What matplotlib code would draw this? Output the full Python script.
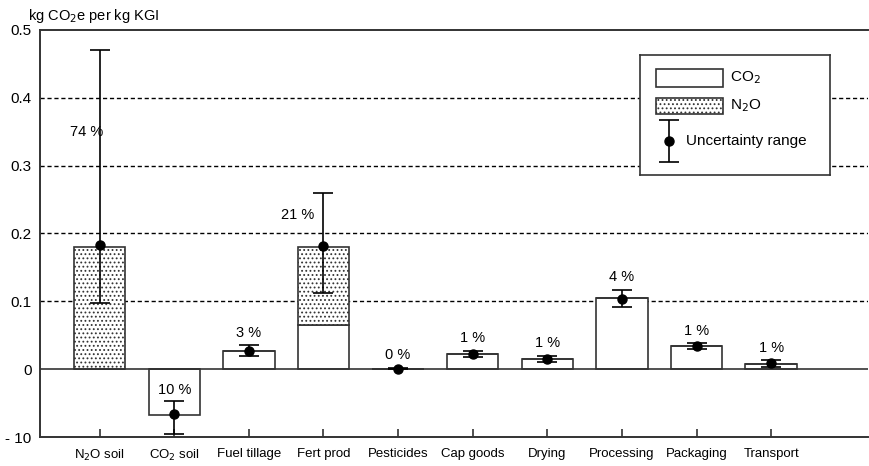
import numpy as np
import matplotlib.pyplot as plt
from matplotlib.patches import Rectangle

plt.rcParams['font.family'] = ['Liberation Sans', 'DejaVu Sans']
plt.rcParams['hatch.linewidth'] = 0.8

# Data (kg CO2e per kg KGI)
categories = ['N$_2$O soil', 'CO$_2$ soil', 'Fuel tillage', 'Fert prod', 'Pesticides',
              'Cap goods', 'Drying', 'Processing', 'Packaging', 'Transport']
co2 = [0.0, -0.068, 0.027, 0.065, 0.001, 0.022, 0.015, 0.105, 0.034, 0.007]
n2o = [0.180, 0.0, 0.0, 0.115, 0.0, 0.0, 0.0, 0.0, 0.0, 0.0]
central = [0.183, -0.066, 0.027, 0.182, 0.001, 0.022, 0.015, 0.104, 0.034, 0.009]
err_low = [0.097, -0.095, 0.020, 0.113, 0.000, 0.018, 0.011, 0.092, 0.030, 0.004]
err_high = [0.470, -0.047, 0.035, 0.260, 0.002, 0.027, 0.019, 0.117, 0.038, 0.013]
shares = ['74 %', '10 %', '3 %', '21 %', '0 %', '1 %', '1 %', '4 %', '1 %', '1 %']

x = np.arange(len(categories))
central = np.array(central)
yerr = [central - np.array(err_low), np.array(err_high) - central]

fig = plt.figure(figsize=(8.69, 4.66), dpi=100)
ax = fig.add_axes([0.046, 0.062, 0.953, 0.874])

# dashed grid lines
for g in [0.1, 0.2, 0.3, 0.4]:
    ax.axhline(g, color='black', linestyle=(0, (3, 2)), linewidth=1.0, zorder=0)
ax.axhline(0, color='#333333', linewidth=1.2, zorder=3)

width = 0.69
ax.bar(x, co2, width, color='white', edgecolor='#333333', linewidth=1.2, zorder=2)
ax.bar(x, n2o, width, bottom=np.maximum(co2, 0), color='white', edgecolor='#333333',
       linewidth=1.2, hatch='....', zorder=2)
ax.errorbar(x, central, yerr=yerr, fmt='o', color='black', markersize=6.5,
            capsize=7, elinewidth=1.2, capthick=1.2, zorder=4)

# share labels
for i, s in enumerate(shares):
    if i == 0:
        ax.text(x[i] - 0.17, 0.35, s, ha='center', va='center', fontsize=10.5)
    elif i == 3:
        ax.text(x[i] - 0.35, 0.227, s, ha='center', va='center', fontsize=10.5)
    elif co2[i] < 0:
        ax.text(x[i], -0.03, s, ha='center', va='center', fontsize=10.5)
    else:
        ax.text(x[i], err_high[i] + 0.019, s, ha='center', va='center', fontsize=10.5)

ax.set_xlim(-0.8, 10.3)
ax.set_ylim(-0.1, 0.5)
ax.set_xticks(x)
ax.set_xticklabels(categories, fontsize=9.5)
ax.set_yticks([-0.1, 0, 0.1, 0.2, 0.3, 0.4, 0.5])
ax.set_yticklabels(['- 10', '0', '0.1', '0.2', '0.3', '0.4', '0.5'], fontsize=11)
ax.tick_params(axis='x', direction='in', length=6, width=1.2, pad=8, color='#333333')
ax.tick_params(axis='y', length=0, pad=6)
for side in ['left', 'bottom', 'top']:
    ax.spines[side].set_linewidth(1.4)
    ax.spines[side].set_color('#333333')
ax.spines['right'].set_visible(False)

fig.text(0.032, 0.965, 'kg CO$_2$e per kg KGI', fontsize=10.5, ha='left', va='center')

# legend box drawn by hand (pixel-like units inside the box)
lax = fig.add_axes([0.7365, 0.6245, 0.2186, 0.2575])
lax.set_xlim(0, 190)
lax.set_ylim(120, 0)
lax.set_xticks([])
lax.set_yticks([])
for sp in lax.spines.values():
    sp.set_linewidth(1.2)
    sp.set_color('#333333')
lax.add_patch(Rectangle((16, 14), 67, 18, facecolor='white', edgecolor='#333333', linewidth=1.2))
lax.add_patch(Rectangle((16, 43), 67, 16, facecolor='white', edgecolor='#333333',
                        linewidth=1.2, hatch='....'))
lax.errorbar([29], [86], yerr=[[21], [21]], fmt='o', color='black', markersize=6.5,
             capsize=7, elinewidth=1.2, capthick=1.2)
lax.text(90, 23, 'CO$_2$', fontsize=11, va='center', ha='left')
lax.text(90, 51, 'N$_2$O', fontsize=11, va='center', ha='left')
lax.text(46, 86, 'Uncertainty range', fontsize=11, va='center', ha='left')

plt.savefig('out.png', dpi=100)
